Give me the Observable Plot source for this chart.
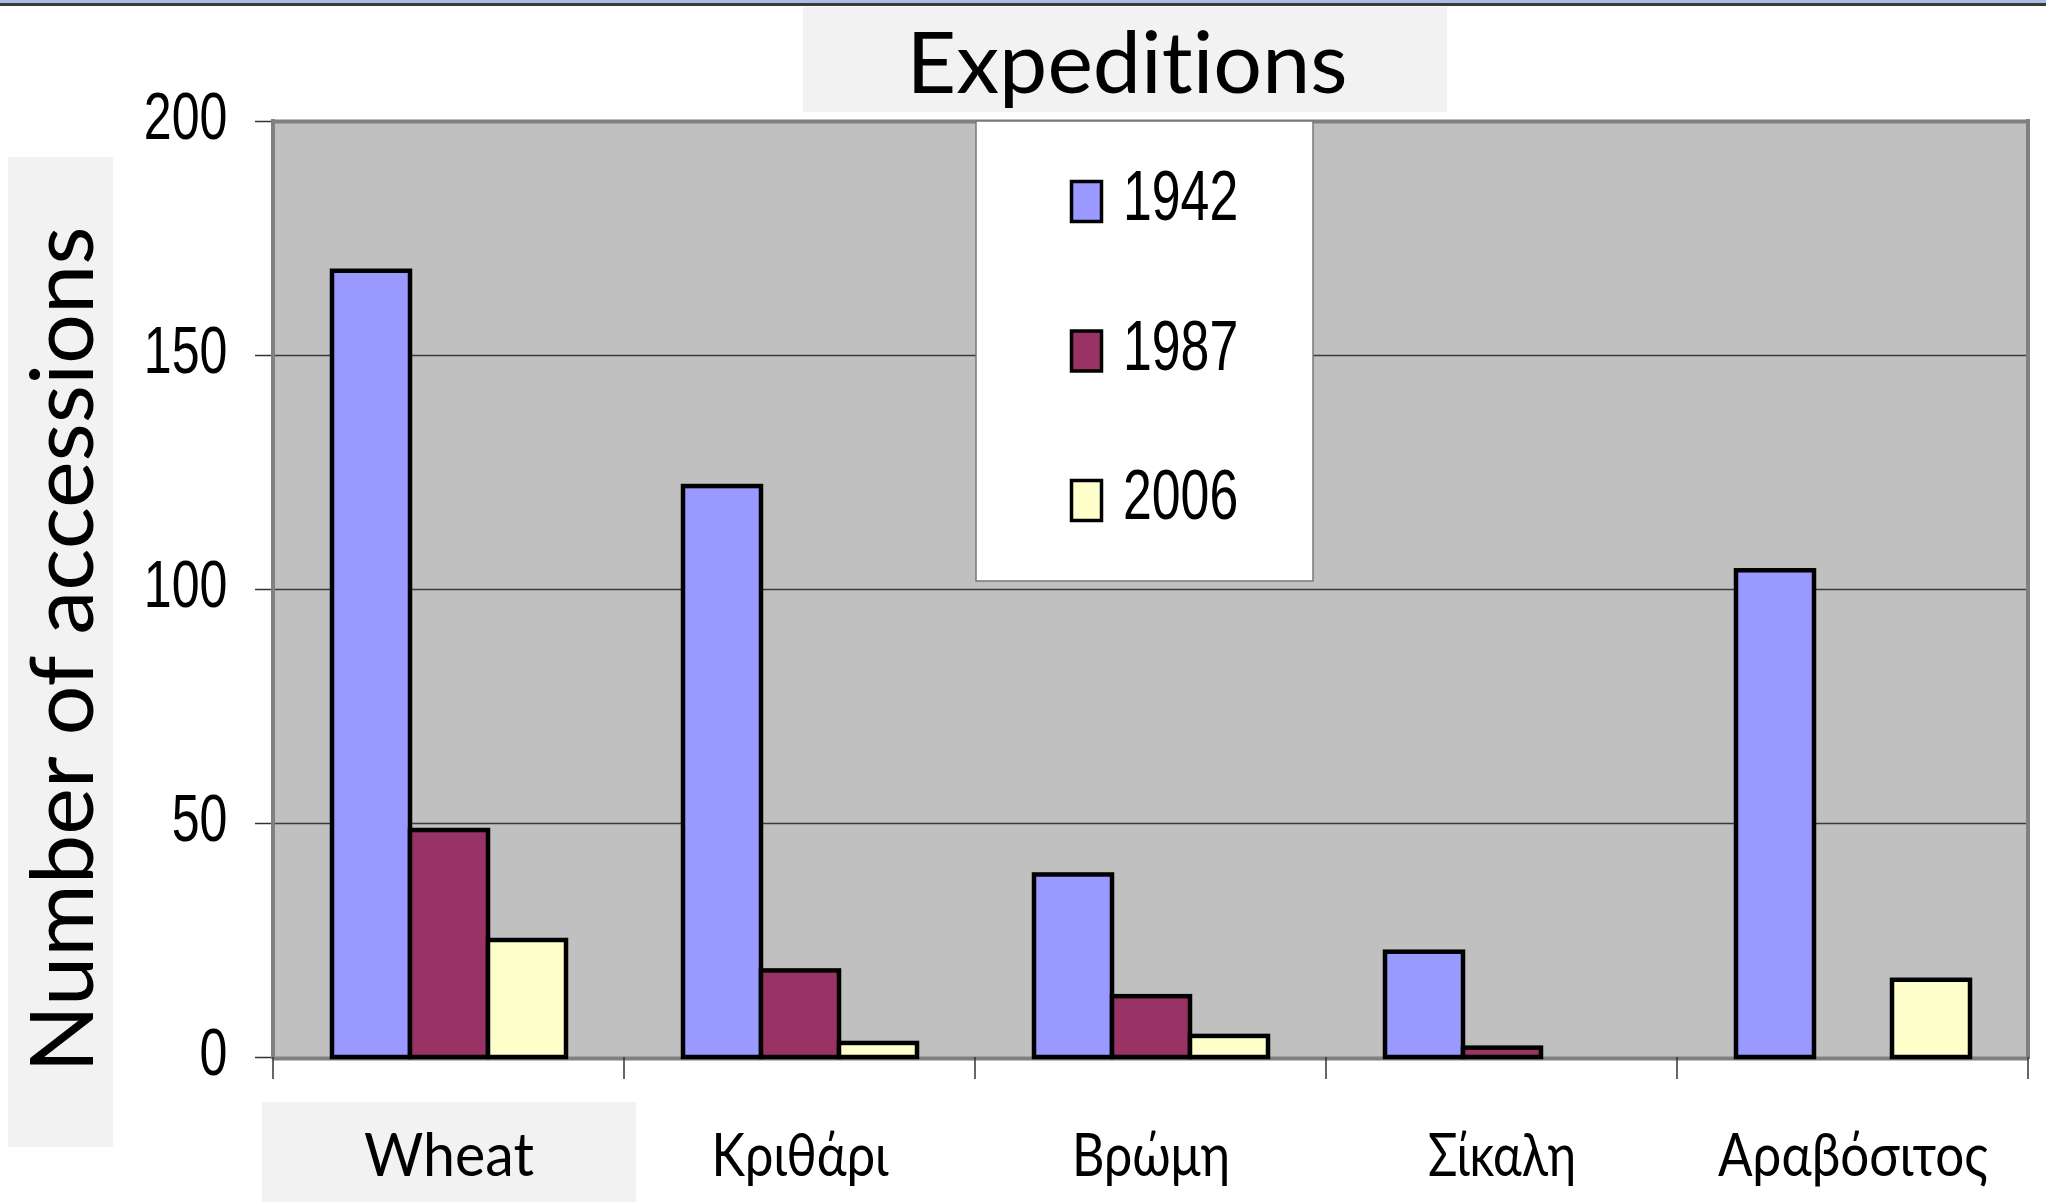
<!DOCTYPE html>
<html><head><meta charset="utf-8">
<script src="https://cdn.jsdelivr.net/npm/d3@7"></script>
<script src="https://cdn.jsdelivr.net/npm/@observablehq/plot@0.6"></script>
<style>
html,body{margin:0;padding:0;background:#fff;}
#root{position:relative;width:2046px;height:1202px;overflow:hidden;}
#root > *{position:absolute;left:0;top:0;}
svg text{font-variant-ligatures:none;}
</style></head><body><div id="root"></div>
<script>
// ---- data ----
const crops = ["Wheat", "Κριθάρι", "Βρώμη", "Σίκαλη", "Αραβόσιτος"];
const years = ["1942", "1987", "2006"];
const v1942 = [168, 122, 39, 22.5, 104];
const v1987 = [48.5, 18.5, 13, 2, null];
const v2006 = [25, 3, 4.5, null, 16.5];
const yTicks = [0, 50, 100, 150, 200];
const yGrid = [50, 100, 150];
const colors = ["#9999ff", "#993366", "#ffffcc"];
const titleText = "Expeditions";
const yLabelText = "Number of accessions";

const series = [v1942, v1987, v2006];
const data = [];
crops.forEach((c, i) => years.forEach((y, j) => {
  const v = series[j][i];
  if (v != null) data.push({crop: c, year: y, value: v});
}));

// ---- style / layout ----
const W = 2046, H = 1202;
const calibriLike = "Lato, 'Open Sans', sans-serif";
const arialLike = "'Liberation Sans', Arial, sans-serif";
const panelGray = "#f2f2f2";
// rendered widths of the category labels (text styling)
const labelWidths = {"Wheat": 170, "Κριθάρι": 177, "Βρώμη": 158, "Σίκαλη": 148, "Αραβόσιτος": 270};

const root = document.getElementById("root");
function box(l, t, w, h, bg, z) {
  const d = document.createElement("div");
  Object.assign(d.style, {left: l + "px", top: t + "px", width: w + "px", height: h + "px", background: bg, zIndex: z});
  root.appendChild(d);
  return d;
}
// top window strip
box(0, 0, W, 3, "#a9bde6", 0);
box(0, 3, W, 3, "#3a3a3a", 0);
// light panels behind texts
box(803, 7, 644, 105, panelGray, 0);   // title panel
box(8, 157, 105, 990, panelGray, 0);   // y label panel
box(262, 1102, 374, 100, panelGray, 0); // "Wheat" label panel

const chart = Plot.plot({
  width: W, height: H,
  marginLeft: 272, marginRight: 17, marginTop: 121, marginBottom: 145,
  style: {background: "transparent", overflow: "visible"},
  fx: {domain: crops, padding: 0, label: null},
  x: {domain: years, paddingInner: 0, paddingOuter: 0.75, axis: null},
  y: {domain: [0, 200], label: null},
  color: {domain: years, range: colors},
  marks: [
    Plot.frame({fill: "#c0c0c0", inset: -1}),
    Plot.gridY(yGrid, {stroke: "#3a3a3a", strokeOpacity: 1, strokeWidth: 1.5}),
    Plot.ruleY([200], {stroke: "#808080", strokeWidth: 4}),
    Plot.ruleY([0], {stroke: "#808080", strokeWidth: 4, dy: 1}),
    Plot.barY(data, {fx: "crop", x: "year", y: "value", fill: "year", stroke: "#000", strokeWidth: 4.5}),
    Plot.axisY({ticks: yTicks, tickSize: 18, tickPadding: 28, fontSize: 66, fontFamily: arialLike,
                stroke: "#333", strokeWidth: 1.5, fill: "#000", label: null, tickFormat: d3.format("d")}),
    Plot.axisFx({anchor: "bottom", tickSize: 0, tickPadding: 76, fontSize: 60, fontFamily: calibriLike,
                 fill: "#000", label: null})
  ]
});
chart.style.zIndex = 1;
root.appendChild(chart);

// category boundary ticks and side borders, drawn from the plot's own scales
const fxS = chart.scale("fx"), yS = chart.scale("y");
const y0 = yS.apply(0), yTop = yS.apply(200);
const edges = fxS.domain.map(d => fxS.apply(d));
edges.push(fxS.apply(fxS.domain[fxS.domain.length - 1]) + fxS.bandwidth);
const g = d3.select(chart).append("g");
g.selectAll("line.side").data([edges[0], edges[edges.length - 1]]).join("line")
  .attr("x1", d => d).attr("x2", d => d).attr("y1", yTop - 2).attr("y2", y0 + 2)
  .attr("stroke", "#808080").attr("stroke-width", 4);
g.selectAll("line.edge").data(edges).join("line")
  .attr("x1", d => d).attr("x2", d => d).attr("y1", y0).attr("y2", y0 + 22)
  .attr("stroke", "#333").attr("stroke-width", 1.5);

function squeeze(sel, f) {
  sel.each(function() {
    const L = this.getComputedTextLength();
    this.setAttribute("textLength", L * f);
    this.setAttribute("lengthAdjust", "spacingAndGlyphs");
  });
}
const yTickText = d3.select(chart).selectAll('g[aria-label="y-axis tick label"] text');
squeeze(yTickText, 0.76);
yTickText.attr("dy", "-0.05em");
d3.select(chart).selectAll('g[aria-label="fx-axis tick label"] text').each(function() {
  const w = labelWidths[this.textContent];
  if (w) { this.setAttribute("textLength", w); this.setAttribute("lengthAdjust", "spacingAndGlyphs"); }
});

// ---- overlay: title, y label, legend ----
const ov = d3.create("svg").attr("width", W).attr("height", H)
  .style("z-index", 2).style("pointer-events", "none").style("overflow", "visible");
root.appendChild(ov.node());

ov.append("text").attr("x", 1127).attr("y", 93).attr("text-anchor", "middle")
  .attr("font-family", calibriLike).attr("font-size", 86).attr("fill", "#000")
  .attr("textLength", 441).attr("lengthAdjust", "spacingAndGlyphs").text(titleText);
ov.append("text").attr("transform", "translate(93,649.5) rotate(-90)").attr("text-anchor", "middle")
  .attr("font-family", calibriLike).attr("font-size", 87).attr("fill", "#000")
  .attr("textLength", 846).attr("lengthAdjust", "spacingAndGlyphs").text(yLabelText);

const colorS = chart.scale("color");
const lg = ov.append("g");
lg.append("rect").attr("x", 976).attr("y", 121).attr("width", 337).attr("height", 460)
  .attr("fill", "#fff").attr("stroke", "#777").attr("stroke-width", 1.5);
const items = lg.selectAll("g.item").data(colorS.domain).join("g")
  .attr("transform", (d, i) => `translate(0,${i * 149.5})`);
items.append("rect").attr("x", 1071.5).attr("y", 181.5).attr("width", 30).attr("height", 40)
  .attr("fill", d => colorS.apply(d)).attr("stroke", "#000").attr("stroke-width", 3.5);
const lt = items.append("text").attr("x", 1123).attr("y", 220)
  .attr("font-family", arialLike).attr("font-size", 70).attr("fill", "#000").text(d => d);
squeeze(lt, 0.74);
</script>
</body></html>
